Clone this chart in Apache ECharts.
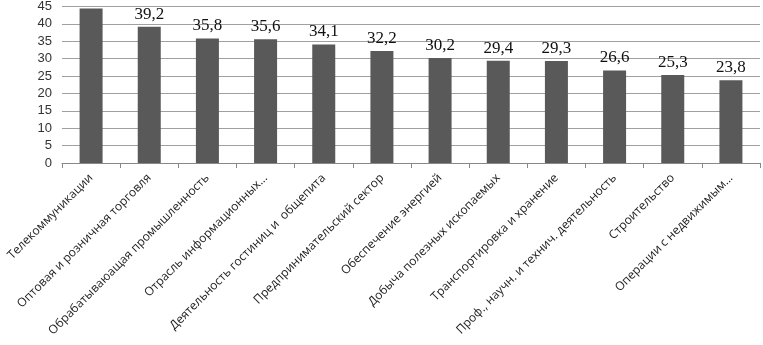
<!DOCTYPE html>
<html>
<head>
<meta charset="utf-8">
<script src="https://cdn.jsdelivr.net/npm/echarts@6/dist/echarts.min.js"></script>
<style>
  html, body { margin: 0; padding: 0; background: #fff; }
  #chart { width: 763px; height: 345px; }
</style>
</head>
<body>
<div id="chart"></div>
<script>
  var categories = [
    'Телекоммуникации',
    'Оптовая и розничная торговля',
    'Обрабатываюащая промышленность',
    'Отрасль информационных...',
    'Деятельность гостиниц и  общепита',
    'Предпринимательский сектор',
    'Обеспечение энергией',
    'Добыча полезных ископаемых',
    'Транспортировка и хранение',
    'Проф., научн. и технич. деятельность',
    'Строительство',
    'Операции с недвижимым...'
  ];
  var values = [44.4, 39.2, 35.8, 35.6, 34.1, 32.2, 30.2, 29.4, 29.3, 26.6, 25.3, 23.8];
  var yTicks = { min: 0, max: 45, interval: 5 };

  var chart = echarts.init(document.getElementById('chart'));
  chart.setOption({
    animation: false,
    grid: { left: 62, right: 3, top: 5, bottom: 182 },
    xAxis: {
      type: 'category',
      data: categories,
      axisLine: { show: true, lineStyle: { color: '#888', width: 1 } },
      axisTick: { show: true, length: 5, lineStyle: { color: '#888' } },
      axisLabel: {
        interval: 0,
        rotate: 45,
        margin: 13,
        color: '#222',
        fontFamily: 'Open Sans',
        fontSize: 12
      }
    },
    yAxis: {
      type: 'value',
      min: yTicks.min,
      max: yTicks.max,
      interval: yTicks.interval,
      axisLine: { show: false },
      axisTick: { show: false },
      axisLabel: { color: '#333', fontFamily: 'Liberation Sans', fontSize: 13, margin: 10 },
      splitLine: { lineStyle: { color: '#a0a0a0', width: 1 } }
    },
    series: [{
      type: 'bar',
      data: values.map(function (v, i) {
        return i === 0 ? { value: v, label: { show: false } } : v;
      }),
      barWidth: 23,
      itemStyle: { color: '#595959' },
      label: {
        show: true,
        position: 'top',
        distance: 4,
        color: '#111',
        fontFamily: 'Liberation Serif',
        fontSize: 17,
        formatter: function (p) { return String(p.value).replace('.', ','); }
      }
    }]
  });
</script>
</body>
</html>
